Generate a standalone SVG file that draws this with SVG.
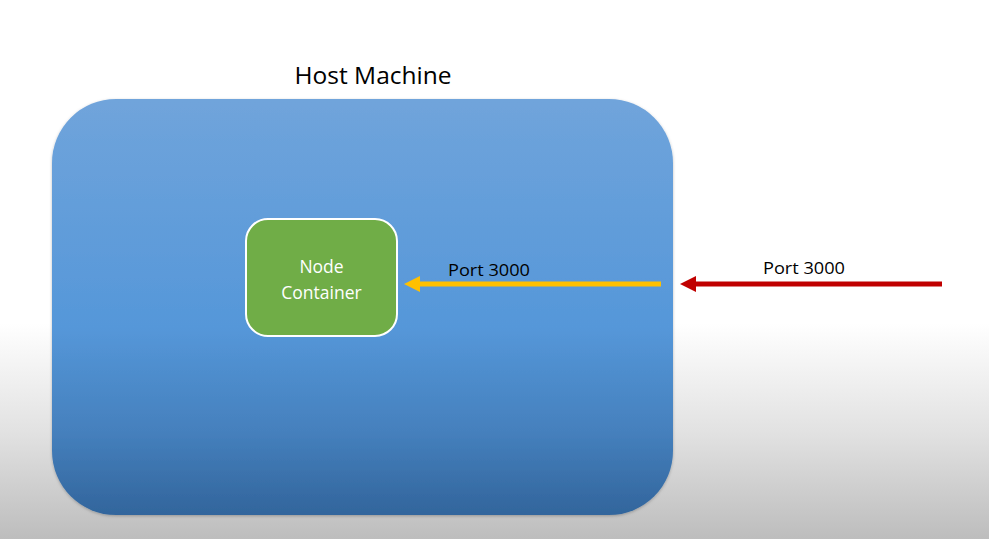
<svg xmlns="http://www.w3.org/2000/svg" width="989" height="539" viewBox="0 0 989 539">
<defs>
<linearGradient id="bg" x1="0" y1="0" x2="0" y2="1">
<stop offset="0" stop-color="#ffffff"/>
<stop offset="0.6" stop-color="#ffffff"/>
<stop offset="0.8" stop-color="#e2e2e2"/>
<stop offset="1" stop-color="#bdbdbd"/>
</linearGradient>
<linearGradient id="host" x1="0" y1="0" x2="0" y2="1">
<stop offset="0" stop-color="#70a4db"/>
<stop offset="0.55" stop-color="#5597d9"/>
<stop offset="0.8" stop-color="#4580bd"/>
<stop offset="1" stop-color="#32659c"/>
</linearGradient>
<filter id="sh" x="-5%" y="-5%" width="110%" height="110%">
<feDropShadow dx="0" dy="1" stdDeviation="1.5" flood-color="#000" flood-opacity="0.25"/>
</filter>
<style>
text{font-family:"Open Sans","Liberation Sans",sans-serif}
.lbl{font-size:17px;fill:#000}
.node{font-size:17.5px;fill:#fff;text-anchor:middle}
</style>
</defs>
<rect width="989" height="539" fill="url(#bg)"/>
<g id="host-machine">
<text x="373" y="84" font-size="24.5" text-anchor="middle" fill="#000">Host Machine</text>
<rect x="52" y="99" width="621" height="416" rx="64" ry="64" fill="url(#host)" filter="url(#sh)"/>
</g>
<g id="node-container">
<rect x="246" y="219" width="151" height="117" rx="22" ry="22" fill="#70ad47" stroke="#ffffff" stroke-width="2"/>
<text class="node" x="321.5" y="273">Node</text>
<text class="node" x="321.5" y="299">Container</text>
</g>
<g id="connectors">
<line x1="661" y1="284" x2="416" y2="284" stroke="#ffc000" stroke-width="5"/>
<polygon points="404,284 420,276 420,292" fill="#ffc000"/>
<text class="lbl" x="448" y="276" textLength="82" lengthAdjust="spacingAndGlyphs">Port 3000</text>
<line x1="942" y1="284" x2="692" y2="284" stroke="#c00000" stroke-width="5"/>
<polygon points="680,284 696,276 696,292" fill="#c00000"/>
<text class="lbl" x="763" y="274" textLength="82" lengthAdjust="spacingAndGlyphs">Port 3000</text>
</g>
</svg>
